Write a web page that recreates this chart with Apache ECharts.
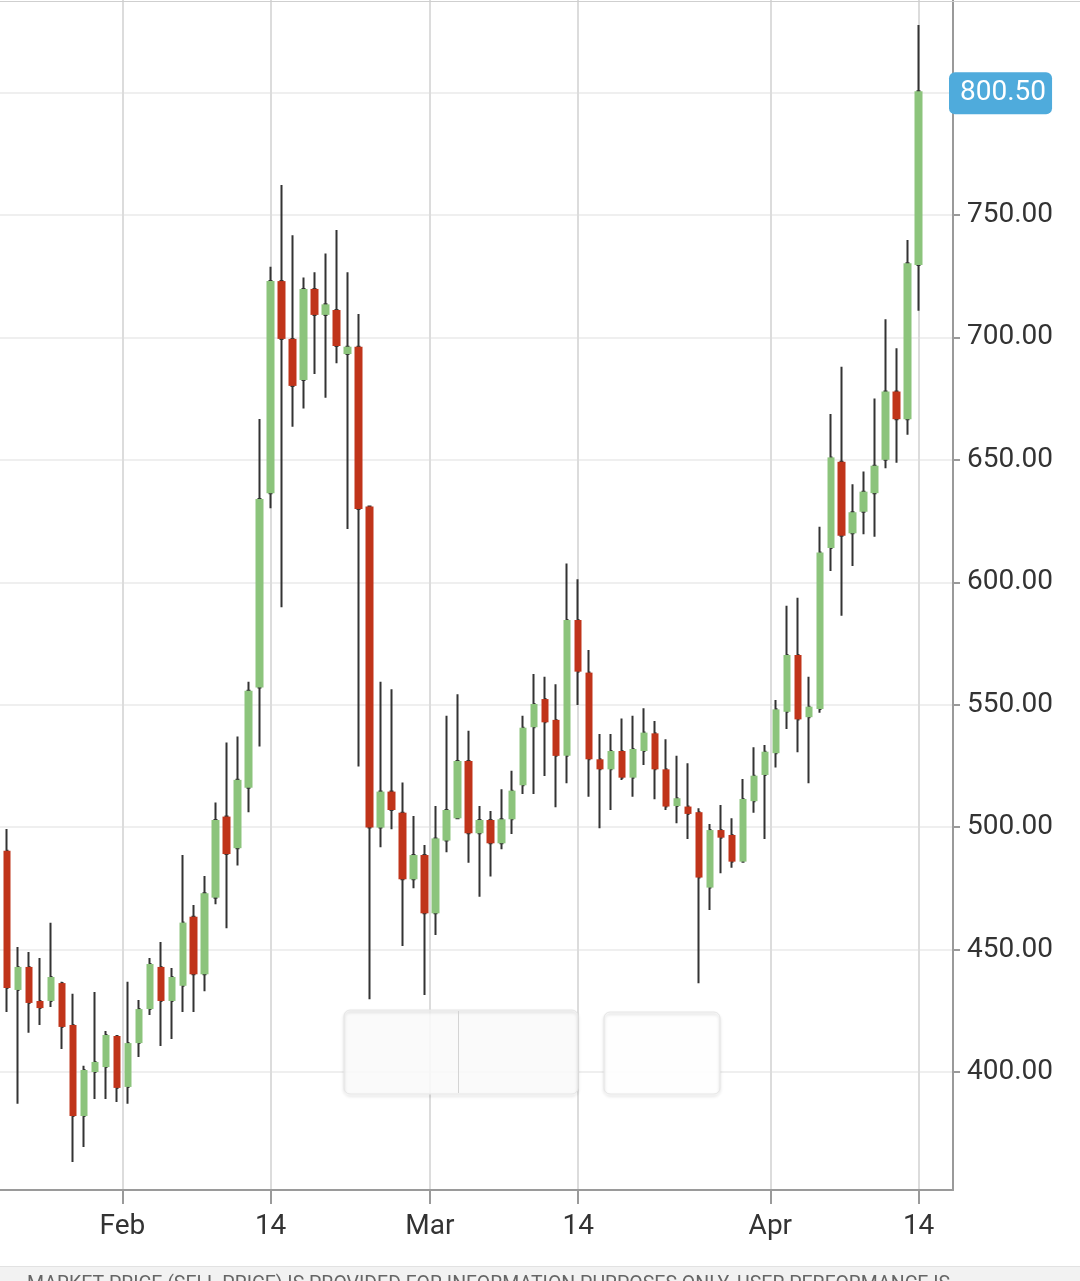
<!DOCTYPE html>
<html>
<head>
<meta charset="utf-8">
<title>Price chart</title>
<script src="https://cdn.jsdelivr.net/npm/echarts@6.0.0/dist/echarts.min.js"></script>
<style>
  html, body { margin: 0; padding: 0; background: #fff; }
  #chart { width: 1080px; height: 1281px; }
</style>
</head>
<body>
<div id="chart"></div>
<script>
// daily candles, Jan 21 .. Apr 14 : [open, close, low, high]
const candles = [
  [490.3, 434.3, 424.5, 499.2], [433.5, 442.9, 387.0, 451.0], [442.9, 428.2, 416.0, 449.0],
  [429.0, 426.1, 419.2, 446.6], [429.0, 438.8, 426.5, 460.9], [436.3, 418.4, 409.4, 436.8],
  [419.2, 382.0, 363.2, 431.9], [382.0, 400.8, 369.4, 402.5], [400.0, 404.1, 389.0, 432.7],
  [402.0, 415.1, 389.0, 416.7], [414.7, 393.5, 387.7, 414.7], [393.9, 411.8, 387.0, 436.8],
  [411.8, 425.7, 406.1, 429.4], [425.7, 444.1, 423.3, 446.6], [442.9, 429.0, 410.6, 453.1],
  [429.0, 438.8, 413.5, 442.5], [435.2, 461.0, 424.5, 488.6], [463.4, 439.9, 424.5, 468.2],
  [439.9, 473.0, 433.0, 480.0], [471.2, 502.9, 468.5, 510.1], [504.3, 489.0, 458.7, 534.6],
  [491.4, 519.3, 484.3, 537.0], [516.1, 555.7, 506.1, 559.4], [557.0, 634.0, 532.9, 666.7],
  [636.4, 723.0, 630.2, 728.9], [723.0, 699.4, 589.8, 762.2], [699.4, 680.2, 663.5, 741.7],
  [682.6, 719.8, 671.0, 724.5], [719.8, 709.2, 685.1, 726.6], [709.2, 713.5, 675.4, 734.3],
  [711.2, 696.5, 689.4, 743.9], [693.2, 696.2, 621.8, 726.6], [696.2, 629.9, 524.8, 709.6],
  [630.9, 499.8, 429.7, 630.9], [499.8, 514.5, 491.8, 559.4], [514.5, 507.0, 499.1, 556.3],
  [505.9, 478.7, 451.5, 518.2], [478.7, 488.6, 475.0, 504.5], [488.6, 464.8, 431.4, 492.7],
  [464.8, 495.4, 455.9, 508.6], [494.5, 507.0, 489.7, 545.5], [503.6, 527.0, 503.6, 554.3],
  [527.0, 497.5, 485.5, 539.4], [497.5, 502.9, 471.6, 508.6], [502.9, 493.4, 479.8, 506.6],
  [493.4, 503.2, 491.0, 515.5], [503.2, 514.9, 497.2, 523.0], [517.1, 540.6, 513.5, 545.5],
  [540.8, 550.3, 513.5, 562.5], [552.3, 542.8, 520.9, 561.4], [543.8, 529.1, 508.1, 558.3],
  [529.1, 584.6, 517.9, 607.7], [584.6, 563.5, 549.9, 601.2], [563.1, 527.7, 512.4, 572.3],
  [527.7, 523.6, 499.5, 538.0], [523.6, 531.1, 507.0, 538.0], [531.1, 520.2, 519.2, 544.4],
  [520.2, 531.9, 512.4, 545.5], [531.1, 538.6, 525.4, 548.5], [538.3, 523.6, 511.4, 543.3],
  [523.6, 508.4, 507.0, 535.9], [508.6, 511.8, 501.6, 529.2], [508.4, 505.4, 495.1, 526.1],
  [506.1, 479.4, 436.2, 507.7], [475.3, 498.8, 466.2, 501.3], [498.8, 495.7, 481.2, 509.0],
  [496.8, 485.9, 483.4, 503.6], [485.9, 511.5, 485.9, 519.7], [510.6, 521.0, 505.9, 532.6],
  [521.3, 530.8, 495.1, 533.5], [530.2, 548.1, 524.3, 551.9], [547.1, 570.3, 540.1, 590.4],
  [570.3, 544.0, 530.6, 593.7], [544.9, 549.2, 517.9, 561.4], [548.2, 612.2, 546.7, 622.7],
  [614.0, 651.0, 604.6, 668.7], [649.2, 619.0, 586.3, 688.0], [620.0, 628.6, 606.6, 640.0],
  [628.8, 637.0, 619.6, 645.2], [636.4, 647.6, 618.6, 675.1], [650.0, 677.9, 646.6, 707.4],
  [677.9, 666.6, 648.8, 695.6], [666.6, 730.3, 660.2, 739.8], [729.6, 800.5, 710.9, 827.6]
];

// x ticks (in candle index units) and their labels
const xTickPos = [10.5, 24, 38.5, 52, 69.5, 83];
const xTickLabels = ['Feb', '14', 'Mar', '14', 'Apr', '14'];

// y ticks
const yLabelValues = [400, 450, 500, 550, 600, 650, 700, 750];
const yTickValues = [400, 450, 500, 550, 600, 650, 700, 750, 800];

const green = '#8cc47c';
const red = '#c0341a';
const wick = '#333';

const lastClose = candles[candles.length - 1][1];

// full candles for the wicks, bodies only for the coloured part
const wickData = candles.map((d, i) => [i, d[0], d[1], d[2], d[3]]);
const bodyData = candles.map((d, i) => [i, d[0], d[1], Math.min(d[0], d[1]), Math.max(d[0], d[1])]);

const chart = echarts.init(document.getElementById('chart'));

// translucent button panel with a soft outline shadow
function panel(x, y, w, h, fill) {
  return [
    { type: 'rect', shape: { x: x, y: y, width: w, height: h, r: 6 }, style: { fill: fill }, z: 20 },
    {
      type: 'rect', shape: { x: x, y: y, width: w, height: h, r: 6 },
      style: { fill: null, stroke: '#e6e6e6', lineWidth: 1,
        shadowBlur: 3, shadowOffsetY: 2, shadowColor: 'rgba(0,0,0,0.22)' }, z: 21
    }
  ];
}

const option = {
  animation: false,
  backgroundColor: '#fff',
  textStyle: { fontFamily: 'Roboto' },
  grid: { left: 0, right: 127, top: 0, bottom: 91 },
  xAxis: {
    type: 'value',
    min: -0.64,
    max: 86.13,
    axisLine: { show: true, onZero: false, lineStyle: { color: '#9a9a9a', width: 2 } },
    axisTick: { show: true, customValues: xTickPos, length: 14, lineStyle: { color: '#9a9a9a', width: 2 } },
    axisLabel: {
      customValues: xTickPos,
      formatter: (v) => {
        const i = xTickPos.indexOf(v);
        return i >= 0 ? xTickLabels[i] : '';
      },
      color: '#333',
      fontSize: 28,
      margin: 23
    },
    splitLine: { show: true, lineStyle: { color: '#dcdcdc', width: 2 } }
  },
  yAxis: {
    type: 'value',
    position: 'right',
    min: 351.8,
    max: 837.8,
    axisLine: { show: true, onZero: false, lineStyle: { color: '#9a9a9a', width: 2 } },
    axisTick: { show: true, customValues: yTickValues, length: 7, lineStyle: { color: '#9a9a9a', width: 2 } },
    axisLabel: {
      customValues: yLabelValues,
      formatter: (v) => v.toFixed(2),
      color: '#333',
      fontSize: 28,
      margin: 14
    },
    splitLine: { show: true, lineStyle: { color: '#efefef', width: 2 } }
  },
  series: [
    {
      name: 'wicks',
      type: 'candlestick',
      data: wickData,
      encode: { x: 0, y: [1, 2, 3, 4] },
      barWidth: 2,
      silent: true,
      itemStyle: {
        color: wick, color0: wick,
        borderColor: wick, borderColor0: wick,
        borderWidth: 2
      }
    },
    {
      name: 'price',
      type: 'candlestick',
      data: bodyData,
      encode: { x: 0, y: [1, 2, 3, 4] },
      barWidth: 8,
      itemStyle: {
        color: green, color0: red,
        borderColor: green, borderColor0: red,
        borderWidth: 0
      },
      markLine: {
        silent: true,
        symbol: ['none', 'none'],
        lineStyle: { color: 'rgba(0,0,0,0)', width: 0 },
        label: {
          show: true,
          position: 'end',
          distance: -4,
          offset: [0, 2],
          formatter: () => lastClose.toFixed(2),
          color: '#fff',
          fontSize: 28,
          lineHeight: 28,
          backgroundColor: '#4fabdc',
          borderRadius: 6,
          padding: [8, 6, 6, 11]
        },
        data: [{ yAxis: lastClose }]
      }
    }
  ],
  graphic: [
    // top border
    { type: 'line', shape: { x1: 0, y1: 1.5, x2: 1080, y2: 1.5 }, style: { stroke: '#cfcfcf', lineWidth: 1 }, z: 10 },
    // range buttons drawn over the plot
    ...panel(344, 1010, 234, 84, 'rgba(249,249,249,0.88)'),
    { type: 'line', shape: { x1: 458.5, y1: 1011, x2: 458.5, y2: 1093 }, style: { stroke: '#d4d4d4', lineWidth: 1 }, z: 22 },
    ...panel(604, 1012, 116, 82, 'rgba(254,254,254,0.92)'),
    // disclaimer strip
    { type: 'rect', shape: { x: 0, y: 1266, width: 1080, height: 15 }, style: { fill: '#f2f2f2' }, z: 20 },
    { type: 'line', shape: { x1: 0, y1: 1266.5, x2: 1080, y2: 1266.5 }, style: { stroke: '#e2e2e2', lineWidth: 1 }, z: 21 },
    {
      type: 'text', left: 27, top: 1275, z: 22,
      style: {
        text: 'MARKET PRICE (SELL PRICE) IS PROVIDED FOR INFORMATION PURPOSES ONLY. USER PERFORMANCE IS',
        fill: '#666', fontSize: 19.5, fontFamily: 'Roboto'
      }
    }
  ]
};

chart.setOption(option);
</script>
</body>
</html>
